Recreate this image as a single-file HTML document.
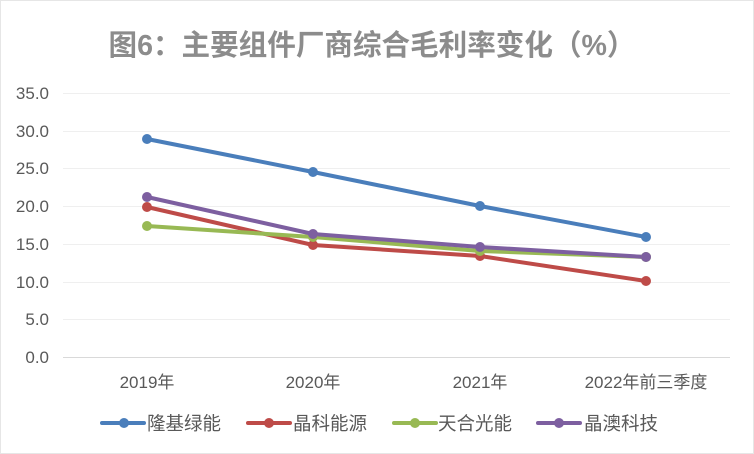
<!DOCTYPE html>
<html><head><meta charset="utf-8"><style>body{margin:0;background:#fff}svg{display:block}</style></head>
<body>
<svg width="754" height="454" xmlns="http://www.w3.org/2000/svg" font-family="'Liberation Sans','Noto Sans CJK SC',sans-serif">
<rect x="0.5" y="0.5" width="753" height="453" fill="#fff" stroke="#e6e6e6"/>
<text x="372" y="55" text-anchor="middle" font-size="29" font-weight="bold" fill="#8c8c8c" textLength="527" lengthAdjust="spacingAndGlyphs">图6：主要组件厂商综合毛利率变化（%）</text>
<g stroke="#efefef" stroke-width="1">
<line x1="63" x2="730" y1="93.5" y2="93.5"/><line x1="63" x2="730" y1="131.5" y2="131.5"/>
<line x1="63" x2="730" y1="168.5" y2="168.5"/><line x1="63" x2="730" y1="206.5" y2="206.5"/>
<line x1="63" x2="730" y1="244.5" y2="244.5"/><line x1="63" x2="730" y1="282.5" y2="282.5"/>
<line x1="63" x2="730" y1="319.5" y2="319.5"/></g>
<line x1="63" x2="730" y1="357.5" y2="357.5" stroke="#d9d9d9"/>
<g font-size="17" fill="#595959" text-anchor="end">
<text x="49" y="99">35.0</text><text x="49" y="137">30.0</text><text x="49" y="174">25.0</text>
<text x="49" y="212">20.0</text><text x="49" y="250">15.0</text><text x="49" y="288">10.0</text>
<text x="49" y="325">5.0</text><text x="49" y="363">0.0</text></g>
<g font-size="17" fill="#595959" text-anchor="middle">
<text x="147" y="388">2019年</text><text x="313" y="388">2020年</text><text x="480" y="388">2021年</text><text x="646" y="388">2022年前三季度</text></g>
<g fill="none" stroke-width="4" stroke-linejoin="round">
<polyline stroke="#4a7ebb" points="147,139 313,172 480,206 646,237"/>
<polyline stroke="#be4b48" points="147,207 313,245 480,256 646,281"/>
<polyline stroke="#98b954" points="147,226 313,237 480,251 646,257"/>
<polyline stroke="#7d5fa0" points="147,197 313,234 480,247 646,257"/></g>
<g fill="#4a7ebb"><circle cx="147" cy="139" r="5"/><circle cx="313" cy="172" r="5"/><circle cx="480" cy="206" r="5"/><circle cx="646" cy="237" r="5"/></g>
<g fill="#be4b48"><circle cx="147" cy="207" r="5"/><circle cx="313" cy="245" r="5"/><circle cx="480" cy="256" r="5"/><circle cx="646" cy="281" r="5"/></g>
<g fill="#98b954"><circle cx="147" cy="226" r="5"/><circle cx="313" cy="237" r="5"/><circle cx="480" cy="251" r="5"/><circle cx="646" cy="257" r="5"/></g>
<g fill="#7d5fa0"><circle cx="147" cy="197" r="5"/><circle cx="313" cy="234" r="5"/><circle cx="480" cy="247" r="5"/><circle cx="646" cy="257" r="5"/></g>
<g stroke-width="4" stroke-linecap="round">
<line x1="102" x2="144" y1="423" y2="423" stroke="#4a7ebb"/><circle cx="124" cy="423" r="5" fill="#4a7ebb"/>
<line x1="248" x2="290" y1="423" y2="423" stroke="#be4b48"/><circle cx="269" cy="423" r="5" fill="#be4b48"/>
<line x1="394" x2="436" y1="423" y2="423" stroke="#98b954"/><circle cx="415" cy="423" r="5" fill="#98b954"/>
<line x1="538" x2="580" y1="423" y2="423" stroke="#7d5fa0"/><circle cx="559" cy="423" r="5" fill="#7d5fa0"/></g>
<g font-size="18.5" fill="#595959">
<text x="147" y="430">隆基绿能</text><text x="293" y="430">晶科能源</text><text x="438" y="430">天合光能</text><text x="584" y="430">晶澳科技</text></g>
</svg>
</body></html>
